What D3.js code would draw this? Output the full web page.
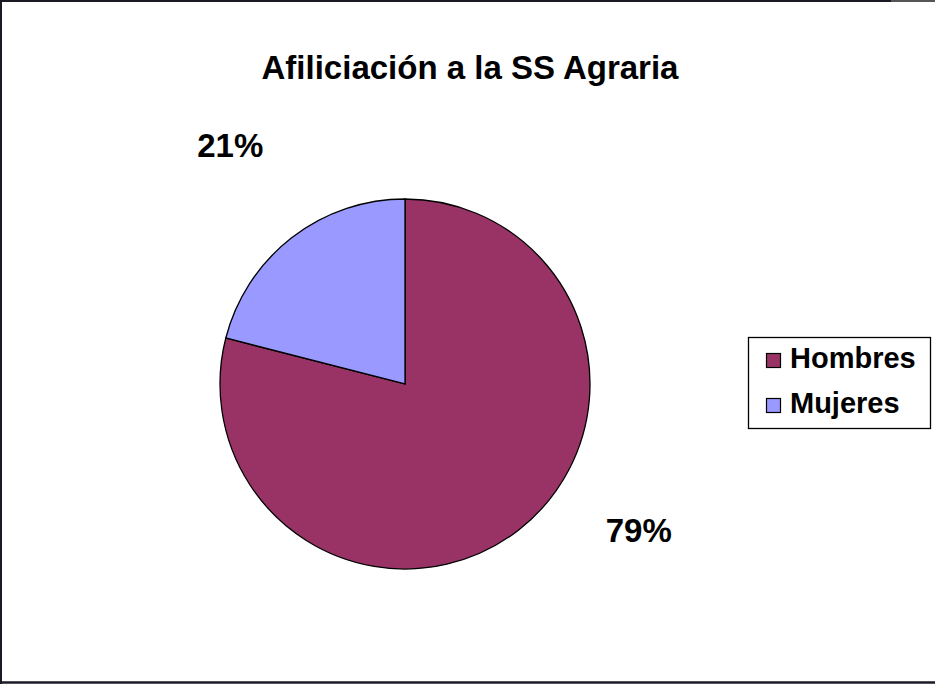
<!DOCTYPE html>
<html>
<head>
<meta charset="utf-8">
<script src="https://cdn.jsdelivr.net/npm/d3@7"></script>
<style>
  html, body { margin: 0; padding: 0; background: #fff; }
  svg { display: block; font-family: "Liberation Sans", Arial, sans-serif; }
</style>
</head>
<body>
<div id="chart"></div>
<script>
// datos
const categories = ["Hombres", "Mujeres"];
const values = [79, 21];
const colors = ["#993366", "#9999FF"];
const title = "Afiliciación a la SS Agraria";

const width = 935;
const height = 684;
const cx = 405;
const cy = 384;
const radius = 185;

const svg = d3
  .select("#chart")
  .append("svg")
  .attr("width", width)
  .attr("height", height);

// marco
svg.append("line").attr("x1", 0).attr("y1", 1).attr("x2", 891).attr("y2", 1)
  .attr("stroke", "#1a1a24").attr("stroke-width", 2);
svg.append("line").attr("x1", 891).attr("y1", 1).attr("x2", width).attr("y2", 1)
  .attr("stroke", "#555").attr("stroke-width", 2);
svg.append("line").attr("x1", 1).attr("y1", 0).attr("x2", 1).attr("y2", height)
  .attr("stroke", "#1a1a24").attr("stroke-width", 2);
svg.append("line").attr("x1", 0).attr("y1", 682.5).attr("x2", width).attr("y2", 682.5)
  .attr("stroke", "#1a1a24").attr("stroke-width", 2.5);

svg
  .append("text")
  .attr("x", 470)
  .attr("y", 79)
  .attr("text-anchor", "middle")
  .style("font-size", "33px")
  .style("font-weight", "bold")
  .text(title);

const data = categories.map((c, i) => ({ name: c, value: values[i], color: colors[i] }));

const pie = d3.pie().sort(null).value((d) => d.value);
const arc = d3.arc().innerRadius(0).outerRadius(radius);
const labelArc = d3.arc().innerRadius(290).outerRadius(290);

// Excel mueve la etiqueta grande hacia arriba
const labelNudge = { Hombres: [56, -83], Mujeres: [3, -10] };

const g = svg.append("g").attr("transform", `translate(${cx},${cy})`);

const arcs = pie(data);

g.selectAll("path")
  .data(arcs)
  .enter()
  .append("path")
  .attr("d", arc)
  .attr("fill", (d) => d.data.color)
  .attr("stroke", "#000")
  .attr("stroke-width", 1.3);

g.selectAll(".pct")
  .data(arcs)
  .enter()
  .append("text")
  .attr("class", "pct")
  .attr("x", (d) => labelArc.centroid(d)[0] + labelNudge[d.data.name][0])
  .attr("y", (d) => labelArc.centroid(d)[1] + labelNudge[d.data.name][1] + 12)
  .attr("text-anchor", "middle")
  .style("font-size", "33px")
  .style("font-weight", "bold")
  .text((d) => Math.round((d.value / d3.sum(values)) * 100) + "%");

// leyenda
const legend = svg.append("g").attr("transform", "translate(748,337)");

legend
  .append("rect")
  .attr("x", 0.5)
  .attr("y", 0.5)
  .attr("width", 182)
  .attr("height", 91)
  .attr("fill", "#fff")
  .attr("stroke", "#000")
  .attr("stroke-width", 1.3);

const item = legend
  .selectAll(".item")
  .data(data)
  .enter()
  .append("g")
  .attr("class", "item")
  .attr("transform", (d, i) => `translate(0, ${i * 45})`);

item
  .append("rect")
  .attr("x", 18.5)
  .attr("y", 16.5)
  .attr("width", 14)
  .attr("height", 14)
  .attr("fill", (d) => d.color)
  .attr("stroke", "#000")
  .attr("stroke-width", 1.2);

item
  .append("text")
  .attr("x", 42)
  .attr("y", 31)
  .style("font-size", "29px")
  .style("font-weight", "bold")
  .text((d) => d.name);
</script>
</body>
</html>
